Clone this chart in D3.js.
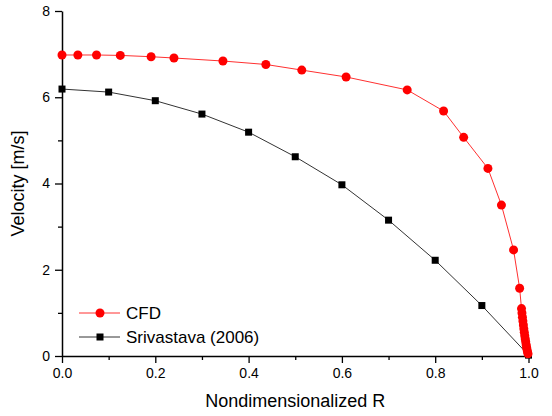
<!DOCTYPE html>
<html>
<head>
<meta charset="utf-8">
<script src="https://cdn.jsdelivr.net/npm/d3@7"></script>
<style>
  body { margin: 0; background: #fff; }
  text { font-family: Arial, "Liberation Sans", sans-serif; }
</style>
</head>
<body>
<div id="chart"></div>
<script>
// CFD profile
const cfdR = [0, 0.034, 0.074, 0.125, 0.191, 0.240, 0.345, 0.437, 0.514, 0.609, 0.740, 0.818, 0.861, 0.913,
  0.942, 0.968, 0.981, 0.985, 0.986, 0.987, 0.988, 0.989, 0.990, 0.991, 0.992, 0.993, 0.994, 0.995, 0.996, 0.997, 0.998, 0.999];
const cfdV = [6.98, 6.98, 6.98, 6.97, 6.94, 6.91, 6.84, 6.76, 6.63, 6.47, 6.17, 5.68, 5.07, 4.35,
  3.50, 2.46, 1.57, 1.10, 1.00, 0.90, 0.81, 0.72, 0.63, 0.55, 0.47, 0.40, 0.33, 0.26, 0.20, 0.14, 0.09, 0.05];

// Srivastava (2006)
const sriR = [0, 0.1, 0.2, 0.3, 0.4, 0.5, 0.6, 0.7, 0.8, 0.9, 1.0];
const sriV = [6.19, 6.12, 5.92, 5.61, 5.19, 4.62, 3.97, 3.15, 2.22, 1.17, 0.02];

const xTicks = [0, 0.2, 0.4, 0.6, 0.8, 1.0];
const xMinor = [0.1, 0.3, 0.5, 0.7, 0.9];
const yTicks = [0, 2, 4, 6, 8];
const yMinor = [1, 3, 5, 7];

const width = 552, height = 416;
const plot = { left: 62, right: 528.5, top: 11, bottom: 356 };

const svg = d3.select("#chart").append("svg")
  .attr("width", width).attr("height", height);

const x = d3.scaleLinear().domain([0, 1]).range([plot.left, plot.right]);
const y = d3.scaleLinear().domain([0, 8]).range([plot.bottom, plot.top]);

// minor ticks
svg.append("g")
  .attr("transform", `translate(0,${plot.bottom})`)
  .call(d3.axisBottom(x).tickValues(xMinor).tickSize(4).tickFormat(""))
  .call(g => g.select(".domain").remove())
  .selectAll("line").attr("stroke-width", 1.3);
svg.append("g")
  .attr("transform", `translate(${plot.left},0)`)
  .call(d3.axisLeft(y).tickValues(yMinor).tickSize(4).tickFormat(""))
  .call(g => g.select(".domain").remove())
  .selectAll("line").attr("stroke-width", 1.3);

const xAxis = svg.append("g")
  .attr("transform", `translate(0,${plot.bottom})`)
  .call(d3.axisBottom(x).tickValues(xTicks).tickSize(7).tickSizeOuter(0).tickPadding(5).tickFormat(d3.format(".1f")));
const yAxis = svg.append("g")
  .attr("transform", `translate(${plot.left},0)`)
  .call(d3.axisLeft(y).tickValues(yTicks).tickSize(7).tickSizeOuter(0).tickPadding(5).tickFormat(d3.format("d")));

[xAxis, yAxis].forEach(a => {
  a.select(".domain").attr("stroke-width", 1.5);
  a.selectAll("line").attr("stroke-width", 1.3);
  a.selectAll("text").attr("font-size", 14).attr("fill", "#000")
    .attr("font-family", "Arial, 'Liberation Sans', sans-serif");
});

// axis titles
svg.append("text")
  .attr("x", (plot.left + plot.right) / 2).attr("y", 407)
  .attr("text-anchor", "middle").attr("font-size", 18)
  .text("Nondimensionalized R");
svg.append("text")
  .attr("transform", `translate(24,${(plot.top + plot.bottom) / 2}) rotate(-90)`)
  .attr("text-anchor", "middle").attr("font-size", 18)
  .text("Velocity [m/s]");

const line = d3.line().x(d => x(d[0])).y(d => y(d[1]));
const cfd = cfdR.map((r, i) => [r, cfdV[i]]);
const sri = sriR.map((r, i) => [r, sriV[i]]);

svg.append("path").datum(sri).attr("d", line)
  .attr("fill", "none").attr("stroke", "#333").attr("stroke-width", 1);
svg.append("path").datum(cfd).attr("d", line)
  .attr("fill", "none").attr("stroke", "#ff3030").attr("stroke-width", 1);

svg.append("g").selectAll("rect").data(sri).enter().append("rect")
  .attr("x", d => x(d[0]) - 3.5).attr("y", d => y(d[1]) - 3.5)
  .attr("width", 7).attr("height", 7).attr("fill", "#000");
svg.append("g").selectAll("circle").data(cfd).enter().append("circle")
  .attr("cx", d => x(d[0])).attr("cy", d => y(d[1]))
  .attr("r", 4.5).attr("fill", "#ff0000");

// legend
const legend = svg.append("g");
legend.append("line").attr("x1", 79).attr("x2", 120).attr("y1", 313).attr("y2", 313)
  .attr("stroke", "#ff3030").attr("stroke-width", 1);
legend.append("circle").attr("cx", 100).attr("cy", 313).attr("r", 4.5).attr("fill", "#ff0000");
legend.append("text").attr("x", 126).attr("y", 319).attr("font-size", 17).text("CFD");
legend.append("line").attr("x1", 79).attr("x2", 120).attr("y1", 337).attr("y2", 337)
  .attr("stroke", "#333").attr("stroke-width", 1);
legend.append("rect").attr("x", 96.5).attr("y", 333.5).attr("width", 7).attr("height", 7).attr("fill", "#000");
legend.append("text").attr("x", 126).attr("y", 343).attr("font-size", 17).text("Srivastava (2006)");
</script>
</body>
</html>
